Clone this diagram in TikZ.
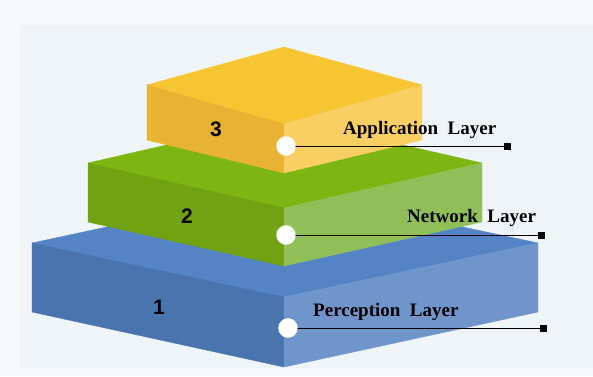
\documentclass[tikz,border=0pt]{standalone}
\usepackage{fontspec}
\usepackage{tikz}
\newfontfamily\labelfont{Liberation Serif}
\newfontfamily\numfont{Liberation Sans}

\definecolor{bgout}{HTML}{F7F9FB}
\definecolor{bgin}{HTML}{EEF4F8}
\definecolor{ytop}{HTML}{F8C532}
\definecolor{yleft}{HTML}{E8B332}
\definecolor{yright}{HTML}{F9CE63}
\definecolor{gtop}{HTML}{7DB512}
\definecolor{gleft}{HTML}{70A212}
\definecolor{gright}{HTML}{91BF57}
\definecolor{btop}{HTML}{5584C6}
\definecolor{bleft}{HTML}{4A74AE}
\definecolor{bright}{HTML}{7095CB}

\begin{document}
\begin{tikzpicture}[x=1pt, y=-1pt,
  face/.style={fill=#1, draw=#1, line width=0.4pt, line join=round},
  layernum/.style={font=\numfont\bfseries\fontsize{21}{23}\selectfont},
  layername/.style={anchor=base west, inner sep=0pt, font=\labelfont\bfseries\fontsize{19}{21}\selectfont},
  dot/.style={circle, fill=white, draw=white, line width=1.5pt, draw opacity=0.6, minimum size=18pt, inner sep=0pt},
  endbox/.style={rectangle, fill=black, minimum size=7pt, inner sep=0pt},
  leader/.style={black, line width=0.9pt}]

\useasboundingbox (0,0) rectangle (593,376);
\fill [bgout] (0,0) rectangle (593,376);
\fill [bgin] (20,25) rectangle (593,368);

\filldraw [face=btop] (32,243) -- (284,189) -- (538,243) -- (284,297) -- cycle;
\filldraw [face=bleft] (32,243) -- (284,297) -- (284,367) -- (32,312) -- cycle;
\filldraw [face=bright] (284,297) -- (538,243) -- (538,312) -- (284,367) -- cycle;

\filldraw [face=gtop] (88,163) -- (284,118) -- (482,163) -- (284,208) -- cycle;
\filldraw [face=gleft] (88,163) -- (284,208) -- (284,266) -- (88,222) -- cycle;
\filldraw [face=gright] (284,208) -- (482,163) -- (482,222) -- (284,266) -- cycle;

\filldraw [face=ytop] (147,85) -- (284,47) -- (422,85) -- (284,124) -- cycle;
\filldraw [face=yleft] (147,85) -- (284,124) -- (284,173) -- (147,140) -- cycle;
\filldraw [face=yright] (284,124) -- (422,85) -- (422,140) -- (284,173) -- cycle;

\node [layernum] (n3) at (216,129) {3};
\node [layernum] (n2) at (187,216) {2};
\node [layernum] (n1) at (159,307) {1};

\node [layername] (app) at (343,134) {Application~ Layer};
\node [layername] (net) at (407,222) {Network~ Layer};
\node [layername] (per) at (313,316) {Perception~ Layer};

\node [endbox] (append) at (507,146) {};
\node [endbox] (netend) at (541,235) {};
\node [endbox] (perend) at (543,328) {};

\node [dot] (appdot) at (286,146) {};
\node [dot] (netdot) at (286,235) {};
\node [dot] (perdot) at (288,328) {};

\draw [leader] (appdot.center) -- (append.center);
\draw [leader] (netdot.center) -- (netend.center);
\draw [leader] (perdot.center) -- (perend.center);

\node [dot] at (appdot) {};
\node [dot] at (netdot) {};
\node [dot] at (perdot) {};
\end{tikzpicture}
\end{document}
